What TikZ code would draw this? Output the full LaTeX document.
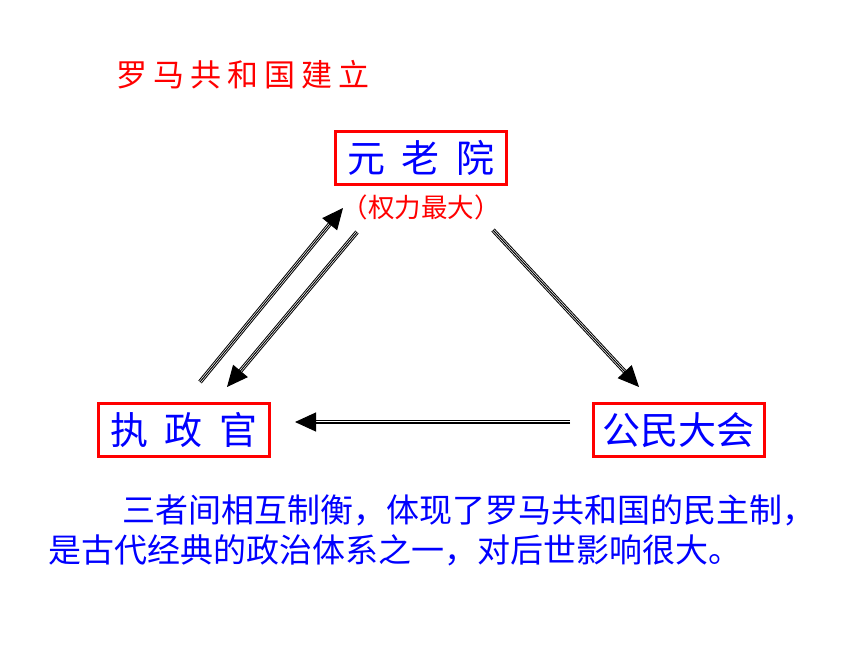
\documentclass[tikz,border=0pt]{standalone}
\usepackage{fontspec}
\newfontfamily\cjk{Noto Sans CJK SC}
\usetikzlibrary{positioning,arrows.meta}

\begin{document}
\begin{tikzpicture}[x=1pt,y=-1pt,
	every node/.style={font=\cjk},
	organ/.style={draw=red, line width=3pt, minimum width=171pt, minimum height=53pt, inner sep=0pt, text=blue, font=\cjk\fontsize{38}{42}\selectfont},
	note/.style={text=blue, anchor=west, inner sep=0pt, font=\cjk\fontsize{33}{36}\selectfont},
	tri/.style={preaction={draw, double=white, double distance=2.4pt, line width=1pt, shorten >=18pt},
		postaction={draw, line width=1pt, -{Triangle[length=21pt,width=19pt]}}}]
	\useasboundingbox (0,0) rectangle (860,645);

	\node[text=red, font=\cjk\fontsize{31}{34}\selectfont] (title) at (243,75)
		{罗\hspace{6pt}马\hspace{6pt}共\hspace{6pt}和\hspace{6pt}国\hspace{6pt}建\hspace{6pt}立};

	\node[organ] (senate) at (421,158) {元\hspace{17pt}老\hspace{17pt}院};
	\node[text=red, font=\cjk\fontsize{26.5}{30}\selectfont, below=5pt of senate] (power) {（权力最大）};
	\node[organ] (consul) at (184,430) {执\hspace{17pt}政\hspace{17pt}官};
	\node[organ] (assembly) at (678.5,430) {公民大会};

	% arrow ends
	\coordinate (c1) at (200,382);
	\coordinate (s1) at (343,208);
	\coordinate (s2) at (357,232);
	\coordinate (c2) at (227,387);
	\coordinate (s3) at (493,230);
	\coordinate (a1) at (639,387);
	\coordinate (a2) at (570,422);
	\coordinate (c3) at (295,422);

	\path[tri] (c1) -- (s1);
	\path[tri] (s2) -- (c2);
	\path[tri] (s3) -- (a1);
	\path[tri] (a2) -- (c3);

	\node[note] (line1) at (122,510) {三者间相互制衡，体现了罗马共和国的民主制，};
	\node[note] (line2) at (48,550) {是古代经典的政治体系之一，对后世影响很大。};
\end{tikzpicture}
\end{document}
